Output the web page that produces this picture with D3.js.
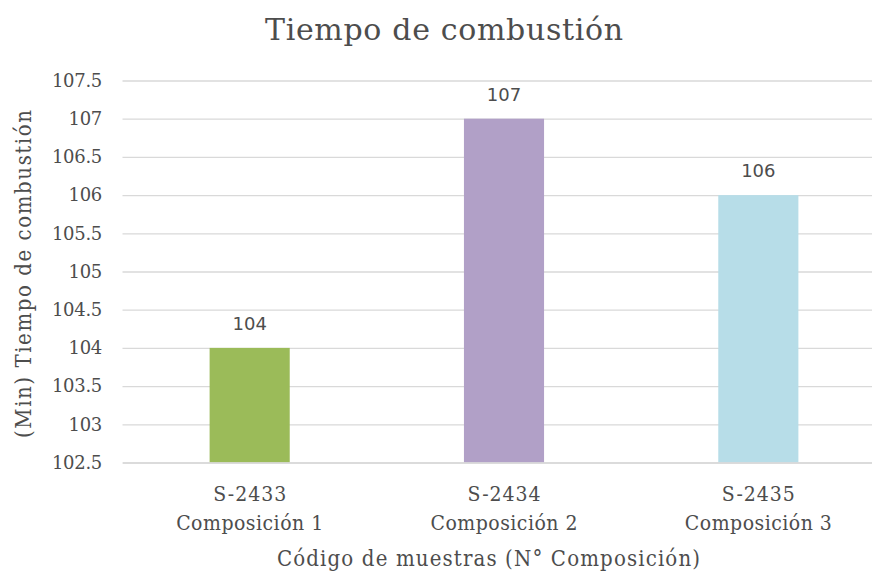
<!DOCTYPE html>
<html><head><meta charset="utf-8">
<script src="https://cdn.jsdelivr.net/npm/d3@7"></script>
<style>body{margin:0;background:#fff}</style>
</head><body>
<svg id="c" width="872" height="573"></svg>
<script>
const codes = ["S-2433","S-2434","S-2435"];
const compositions = ["Composición 1","Composición 2","Composición 3"];
const values = [104, 107, 106];
const colors = ["#9BBB59","#B1A0C7","#B7DDE8"];
const yTicks = [102.5,103,103.5,104,104.5,105,105.5,106,106.5,107,107.5];
const title = "Tiempo de combustión";
const yTitle = "(Min) Tiempo de combustión";
const xTitle = "Código de muestras (N° Composición)";

const svg = d3.select("#c");
const txt = "#4d4d4d";
const serifC = "'DejaVu Serif Condensed','DejaVu Serif',serif";
const serif = "'DejaVu Serif',serif";

const x = d3.scaleBand().domain(codes).range([122.5, 885.5]).paddingInner(0.685).paddingOuter(0.3425);
const y = d3.scaleLinear().domain([102.5,107.5]).range([462.5, 80.5]);

// gridlines
const ga = svg.append("g").attr("transform","translate(122.5,0)")
  .call(d3.axisRight(y).tickValues(yTicks).tickSize(872).tickFormat(""));
ga.select(".domain").remove();
ga.selectAll("line").attr("stroke","#D9D9D9").attr("stroke-width",1.3);

// y tick labels
const yl = svg.append("g").attr("transform","translate(102,0)")
  .call(d3.axisLeft(y).tickValues(yTicks).tickSize(0).tickPadding(0).tickFormat(d=>String(d)));
yl.select(".domain").remove();
yl.selectAll("text").attr("fill",txt).style("font-family",serif).style("font-size","18px").style("letter-spacing","-0.3px");

// bars
svg.append("g").selectAll("rect").data(values).join("rect")
  .attr("x",(d,i)=>x(codes[i])).attr("width",x.bandwidth())
  .attr("y",d=>y(d)).attr("height",d=>y(102.5)-y(d))
  .attr("fill",(d,i)=>colors[i]);

// data labels
svg.append("g").selectAll("text").data(values).join("text")
  .attr("x",(d,i)=>x(codes[i])+x.bandwidth()/2).attr("y",d=>y(d)-18)
  .attr("text-anchor","middle").attr("fill",txt)
  .style("font-family","'DejaVu Sans',sans-serif").style("font-size","18px")
  .text(d=>d);

// x axis
const xa = svg.append("g").attr("transform","translate(0,462.5)")
  .call(d3.axisBottom(x).tickSize(0).tickFormat(""));
xa.select(".domain").attr("stroke","#D9D9D9").attr("stroke-width",1.3);
const cx = d => x(d)+x.bandwidth()/2;
svg.append("g").selectAll("text").data(codes).join("text")
  .attr("x",cx).attr("y",501).attr("text-anchor","middle").attr("fill",txt)
  .style("font-family",serifC).style("font-size","21px")
  .attr("textLength",73).text(d=>d);
svg.append("g").selectAll("text").data(codes).join("text")
  .attr("x",cx).attr("y",530).attr("text-anchor","middle").attr("fill",txt)
  .style("font-family",serifC).style("font-size","21px")
  .attr("textLength",147).text((d,i)=>compositions[i]);

// titles
svg.append("text").attr("x",444).attr("y",40).attr("text-anchor","middle").attr("fill",txt)
  .style("font-family",serif).style("font-size","30px").attr("textLength",358).text(title);
svg.append("text").attr("x",488.5).attr("y",566).attr("text-anchor","middle").attr("fill",txt)
  .style("font-family",serifC).style("font-size","22px").attr("textLength",423).text(xTitle);
svg.append("text").attr("transform","translate(31,274) rotate(-90)").attr("text-anchor","middle").attr("fill",txt)
  .style("font-family",serifC).style("font-size","22px").attr("textLength",328).text(yTitle);
</script>
</body></html>
